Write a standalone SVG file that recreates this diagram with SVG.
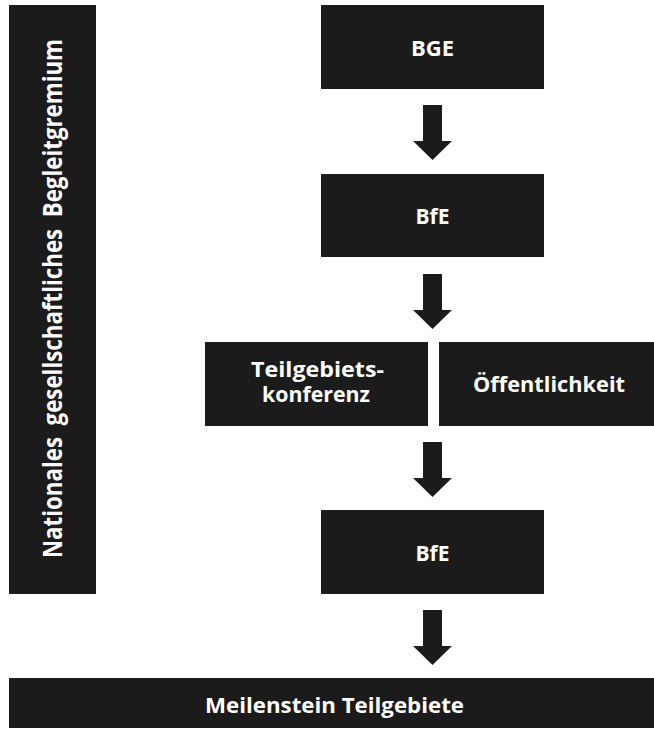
<svg xmlns="http://www.w3.org/2000/svg" width="654" height="730" viewBox="0 0 654 730">
  <style>
    .box { fill: #1b1b1b; }
    .lbl { fill: #ffffff; font-family: "Open Sans", "Liberation Sans", sans-serif; font-weight: 700; font-size: 21px; text-anchor: middle; }
    .vlbl { font-size: 27px; }
    .arrow { fill: #1b1b1b; }
  </style>
  <defs>
    <path id="arr" d="M -9.5 0 H 9.5 V 36 H 19.5 L 0 55 L -19.5 36 H -9.5 Z"/>
  </defs>
  <rect width="654" height="730" fill="#ffffff"/>

  <g id="begleitgremium">
    <rect class="box" x="9" y="5" width="87" height="589"/>
    <text class="lbl vlbl" transform="translate(62,298.5) rotate(-90)" x="0" y="0" textLength="519" lengthAdjust="spacingAndGlyphs" xml:space="preserve">Nationales  gesellschaftliches  Begleitgremium</text>
  </g>

  <g id="bge">
    <rect class="box" x="321" y="5" width="223" height="84"/>
    <text class="lbl" x="432.5" y="56" textLength="43" lengthAdjust="spacingAndGlyphs">BGE</text>
  </g>

  <g id="bfe1">
    <rect class="box" x="321" y="174" width="223" height="83"/>
    <text class="lbl" x="432.5" y="224">BfE</text>
  </g>

  <g id="teilgebietskonferenz">
    <rect class="box" x="205" y="342" width="223" height="84"/>
    <text class="lbl" x="317.5" y="377" textLength="133" lengthAdjust="spacingAndGlyphs">Teilgebiets-</text>
    <text class="lbl" x="316" y="402" textLength="108" lengthAdjust="spacingAndGlyphs">konferenz</text>
  </g>

  <g id="oeffentlichkeit">
    <rect class="box" x="439" y="342" width="220" height="84"/>
    <text class="lbl" x="549" y="392" textLength="152" lengthAdjust="spacingAndGlyphs">Öffentlichkeit</text>
  </g>

  <g id="bfe2">
    <rect class="box" x="321" y="510" width="223" height="84"/>
    <text class="lbl" x="432.5" y="561">BfE</text>
  </g>

  <g id="meilenstein">
    <rect class="box" x="9" y="678" width="650" height="50"/>
    <text class="lbl" x="334.5" y="713" textLength="259" lengthAdjust="spacingAndGlyphs">Meilenstein Teilgebiete</text>
  </g>

  <g id="connectors" class="arrow">
    <use href="#arr" x="432.5" y="105"/>
    <use href="#arr" x="432.5" y="274"/>
    <use href="#arr" x="432.5" y="442"/>
    <use href="#arr" x="432.5" y="610"/>
  </g>
</svg>
